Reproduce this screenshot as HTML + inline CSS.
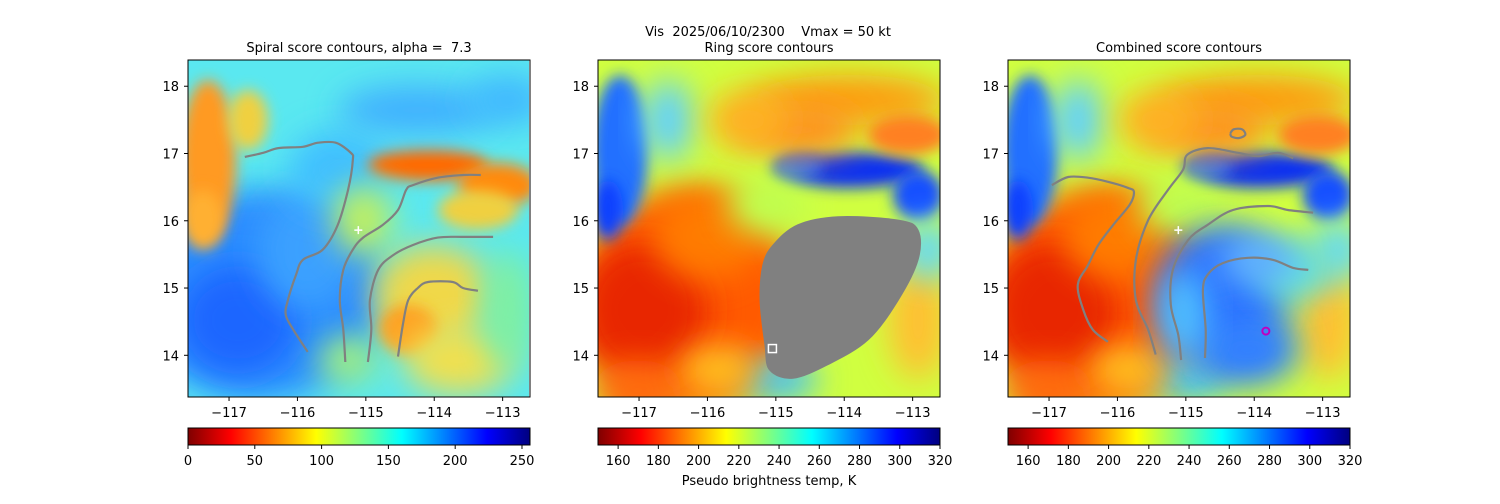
<!DOCTYPE html>
<html><head><meta charset="utf-8">
<style>
body{margin:0;background:#fff;width:1500px;height:500px;overflow:hidden;font-family:"DejaVu Sans","Liberation Sans",sans-serif}
svg text{font-family:"DejaVu Sans","Liberation Sans",sans-serif;fill:#000;white-space:pre}
</style></head>
<body>
<svg id="fig" width="1500" height="500" viewBox="0 0 1500 500" xmlns="http://www.w3.org/2000/svg">
<defs>
<filter id="bl" x="-50%" y="-50%" width="200%" height="200%"><feGaussianBlur stdDeviation="16"/></filter>
<filter id="bs" x="-50%" y="-50%" width="200%" height="200%"><feGaussianBlur stdDeviation="7"/></filter>
<linearGradient id="jetr" x1="0" x2="1" y1="0" y2="0">
<stop offset="0" stop-color="#7f0000"/><stop offset="0.125" stop-color="#ff0000"/>
<stop offset="0.375" stop-color="#ffff00"/><stop offset="0.5" stop-color="#80ff80"/>
<stop offset="0.625" stop-color="#00ffff"/><stop offset="0.875" stop-color="#0000ff"/>
<stop offset="1" stop-color="#00007f"/></linearGradient>
<clipPath id="c1"><rect x="188" y="60" width="341" height="337"/></clipPath>
<clipPath id="c2"><rect x="598" y="60" width="342" height="337"/></clipPath>
<clipPath id="c3"><rect x="1008" y="60" width="342" height="337"/></clipPath>
</defs>
<text x="768" y="36" font-size="13" text-anchor="middle">Vis  2025/06/10/2300    Vmax = 50 kt</text>
</svg>
<script>
const xTicks=[-117,-116,-115,-114,-113];
const yTicks=[14,15,16,17,18];
const cb1Ticks=[0,50,100,150,200,250];
const cb2Ticks=[160,180,200,220,240,260,280,300,320];
const titles=["Spiral score contours, alpha =  7.3","Ring score contours","Combined score contours"];
const p1Lines=[
 [[-116.77,16.95],[-116.50,17.01],[-116.28,17.08],[-115.92,17.10],[-115.70,17.16],[-115.44,17.16],[-115.22,17.01],[-115.19,16.90],[-115.26,16.46],[-115.41,15.94],[-115.63,15.57],[-115.92,15.42],[-116.02,15.20],[-116.14,14.82],[-116.17,14.60],[-116.06,14.38],[-115.85,14.05]],
 [[-115.30,13.90],[-115.33,14.38],[-115.38,14.82],[-115.33,15.27],[-115.19,15.57],[-115.04,15.75],[-114.75,15.94],[-114.53,16.16],[-114.41,16.46],[-114.31,16.53],[-113.95,16.64],[-113.58,16.68],[-113.32,16.68]],
 [[-114.97,13.90],[-114.92,14.38],[-114.94,14.82],[-114.82,15.27],[-114.60,15.49],[-114.31,15.64],[-113.95,15.75],[-113.58,15.76],[-113.14,15.76]],
 [[-114.53,13.98],[-114.46,14.45],[-114.38,14.82],[-114.24,15.00],[-114.09,15.09],[-113.73,15.09],[-113.58,15.00],[-113.36,14.96]]
];
const p3Lines=[
 [[-116.96,16.53],[-116.72,16.65],[-116.43,16.64],[-116.14,16.58],[-115.85,16.49],[-115.76,16.43],[-115.82,16.24],[-116.06,15.94],[-116.28,15.64],[-116.43,15.34],[-116.58,15.05],[-116.50,14.68],[-116.36,14.38],[-116.14,14.20]],
 [[-115.44,14.01],[-115.55,14.38],[-115.73,14.82],[-115.73,15.42],[-115.55,16.01],[-115.26,16.46],[-115.04,16.76],[-114.98,16.98],[-114.68,17.08],[-114.24,17.01],[-113.95,16.96],[-113.65,17.01],[-113.43,16.93]],
 [[-115.07,13.93],[-115.11,14.30],[-115.22,14.75],[-115.19,15.27],[-114.97,15.71],[-114.68,15.94],[-114.31,16.16],[-113.80,16.22],[-113.51,16.16],[-113.14,16.12]],
 [[-114.72,13.96],[-114.71,14.38],[-114.75,14.97],[-114.68,15.20],[-114.46,15.37],[-114.09,15.45],[-113.73,15.42],[-113.43,15.30],[-113.21,15.27]],
 [[-114.35,17.30],[-114.30,17.36],[-114.18,17.36],[-114.13,17.28],[-114.22,17.23],[-114.33,17.25],[-114.35,17.30]]
];
const blobLon=[-115.04,-114.68,-114.09,-113.21,-112.92,-112.92,-113.21,-113.65,-114.24,-114.75,-115.09,-115.16,-115.23,-115.19];
const blobLat=[15.64,15.94,16.06,16.01,15.86,15.42,14.82,14.23,13.86,13.66,13.78,14.16,14.82,15.34];
const plusPt=[-115.11,15.86];
const squarePt=[-115.05,14.10];
const circlePt=[-113.83,14.36];

const NS="http://www.w3.org/2000/svg";
const fig=document.getElementById('fig');
function mk(tag,attrs,parent){const e=document.createElementNS(NS,tag);for(const k in attrs)e.setAttribute(k,attrs[k]);(parent||fig).appendChild(e);return e;}
const PW=342,PH=337,Y0=60;
const LON0=-117.6,LON1=-112.6,LAT0=13.38,LAT1=18.39;
function sx(x0,lon){return x0+(lon-LON0)/(LON1-LON0)*PW;}
function sy(lat){return Y0+(LAT1-lat)/(LAT1-LAT0)*PH;}
function smooth(pts,closed){
 const n=pts.length;let d='M'+pts[0][0].toFixed(1)+','+pts[0][1].toFixed(1);
 const g=i=>closed?pts[(i+n)%n]:pts[Math.max(0,Math.min(n-1,i))];
 const m=closed?n:n-1;
 for(let i=0;i<m;i++){const p0=g(i-1),p1=g(i),p2=g(i+1),p3=g(i+2);
  const c1=[p1[0]+(p2[0]-p0[0])/6,p1[1]+(p2[1]-p0[1])/6],c2=[p2[0]-(p3[0]-p1[0])/6,p2[1]-(p3[1]-p1[1])/6];
  d+=`C${c1[0].toFixed(1)},${c1[1].toFixed(1)} ${c2[0].toFixed(1)},${c2[1].toFixed(1)} ${p2[0].toFixed(1)},${p2[1].toFixed(1)}`;}
 return d+(closed?'Z':'');
}

const bg1=[["#5ae8f0"],
 [70,235,125,105,"#2c8cff","bl"],[50,260,60,55,"#1a66ff","bl"],[120,190,50,60,"#3aa0ff","bl"],[150,110,50,40,"#40c0ff","bl"],
 [20,100,28,80,"#ff9a20","bs"],[15,160,20,30,"#ffb030","bs"],[60,60,20,30,"#f0d040","bs"],
 [240,105,60,16,"#ff6a00","bs"],[310,125,40,22,"#ff8a10","bs"],[290,150,40,20,"#f0d040","bs"],
 [245,235,60,50,"#f0d848","bl"],[220,270,30,25,"#ffa020","bs"],[270,300,55,35,"#f0e050","bl"],[160,300,30,25,"#a0f080","bl"],
 [230,50,80,25,"#40b0ff","bl"],[320,40,40,25,"#40b8ff","bl"],[175,160,30,35,"#c0f060","bl"],[320,250,25,60,"#80f0a0","bl"]];
const bg2=[["#d0ff40"],
 [90,240,110,110,"#ff5a00","bl"],[45,250,65,70,"#e82800","bl"],[110,175,55,45,"#ff7a00","bl"],[40,330,45,30,"#ff6a10","bl"],
 [22,90,28,75,"#2070ff","bs"],[10,150,15,30,"#1040ff","bs"],[70,60,25,40,"#60d0ff","bl"],
 [250,110,75,18,"#1030f0","bs"],[320,135,25,25,"#1850ff","bs"],[200,105,25,15,"#2060ff","bs"],
 [250,40,100,25,"#ff9a10","bl"],[200,70,60,25,"#ff9020","bl"],[310,75,40,20,"#ff8020","bs"],[150,60,40,30,"#ffb020","bl"],
 [170,145,40,30,"#c0ff50","bl"],[180,320,40,20,"#40c0ff","bl"],[320,260,30,60,"#ffc030","bl"],[120,310,40,25,"#ffc020","bl"],[330,190,25,30,"#60d8ff","bl"]];
const bg3extra=[[215,235,65,70,"#2a70ff","bl"],[240,290,50,35,"#3080ff","bl"],[175,255,25,45,"#50c0ff","bl"],[285,210,40,30,"#60e0e0","bl"],[250,200,40,25,"#60b0ff","bl"]];

function panel(i,x0,bg,lines){
 const g=mk('g',{'clip-path':'url(#c'+(i+1)+')'});
 
 
 mk('rect',{x:x0,y:Y0,width:PW,height:PH,fill:bg[0][0]},g);
 bg.slice(1).forEach(b=>mk('ellipse',{cx:x0+b[0],cy:Y0+b[1],rx:b[2],ry:b[3],fill:b[4],filter:'url(#'+b[5]+')'},g));
 (lines||[]).forEach((ln,k)=>{
  const p=mk('path',{d:smooth(ln.map(q=>[sx(x0,q[0]),sy(q[1])]),false),fill:'none',stroke:'#808080','stroke-width':2.2,'stroke-linejoin':'round'},g);
  
  
 });
 const fr=mk('rect',{x:x0,y:Y0,width:PW,height:PH,fill:'none',stroke:'#000','stroke-width':1});
 
 
 const t=mk('text',{x:x0+PW/2,y:52,'font-size':13,'text-anchor':'middle'});t.textContent=titles[i];
 
 
 xTicks.forEach(v=>{const X=sx(x0,v);mk('line',{x1:X,x2:X,y1:Y0+PH,y2:Y0+PH+4,stroke:'#000'});
  const tt=mk('text',{x:X,y:Y0+PH+20,'font-size':13,'text-anchor':'middle'});tt.textContent='\u2212'+Math.abs(v);
  
  });
 yTicks.forEach(v=>{const Y=sy(v);mk('line',{x1:x0-4,x2:x0,y1:Y,y2:Y,stroke:'#000'});
  const tt=mk('text',{x:x0-9,y:Y+5,'font-size':13,'text-anchor':'end'});tt.textContent=v;
  
  });
 return g;
}
panel(0,188,bg1,p1Lines);
const g2=panel(1,598,bg2,[]);
panel(2,1008,bg2.concat(bg3extra),p3Lines);

const blob=mk('path',{d:smooth(blobLon.map((l,k)=>[sx(598,l),sy(blobLat[k])]),true),fill:'#808080',stroke:'#808080','stroke-width':1},g2);



let X=sx(188,plusPt[0]),Y=sy(plusPt[1]);
const pl=mk('path',{d:`M${X-4},${Y}H${X+4}M${X},${Y-4}V${Y+4}`,stroke:'#fff','stroke-width':1.5});


X=sx(1008,plusPt[0]);
const pl3=mk('path',{d:`M${X-4},${Y}H${X+4}M${X},${Y-4}V${Y+4}`,stroke:'#fff','stroke-width':1.5});


const sq=mk('rect',{x:sx(598,squarePt[0])-4,y:sy(squarePt[1])-4,width:8,height:8,fill:'none',stroke:'#fff','stroke-width':1.5});


const ci=mk('circle',{cx:sx(1008,circlePt[0]),cy:sy(circlePt[1]),r:3.5,fill:'none',stroke:'#c000c0','stroke-width':2});



function cbar(i,x0,lo,hi,ticks,label){
 const r=mk('rect',{x:x0,y:428,width:PW,height:17,fill:'url(#jetr)',stroke:'#000','stroke-width':1});
 
 
 ticks.forEach(v=>{const X=x0+(v-lo)/(hi-lo)*PW;mk('line',{x1:X,x2:X,y1:445,y2:449,stroke:'#000'});
  const t=mk('text',{x:X,y:465,'font-size':13,'text-anchor':'middle'});t.textContent=v;
  
  });
 if(label){const t=mk('text',{x:x0+PW/2,y:485,'font-size':13,'text-anchor':'middle'});t.textContent=label;
  
  }
}
cbar(0,188,0,256,cb1Ticks,null);
cbar(1,598,150,320,cb2Ticks,"Pseudo brightness temp, K");
cbar(2,1008,150,320,cb2Ticks,null);
</script>
</body></html>
